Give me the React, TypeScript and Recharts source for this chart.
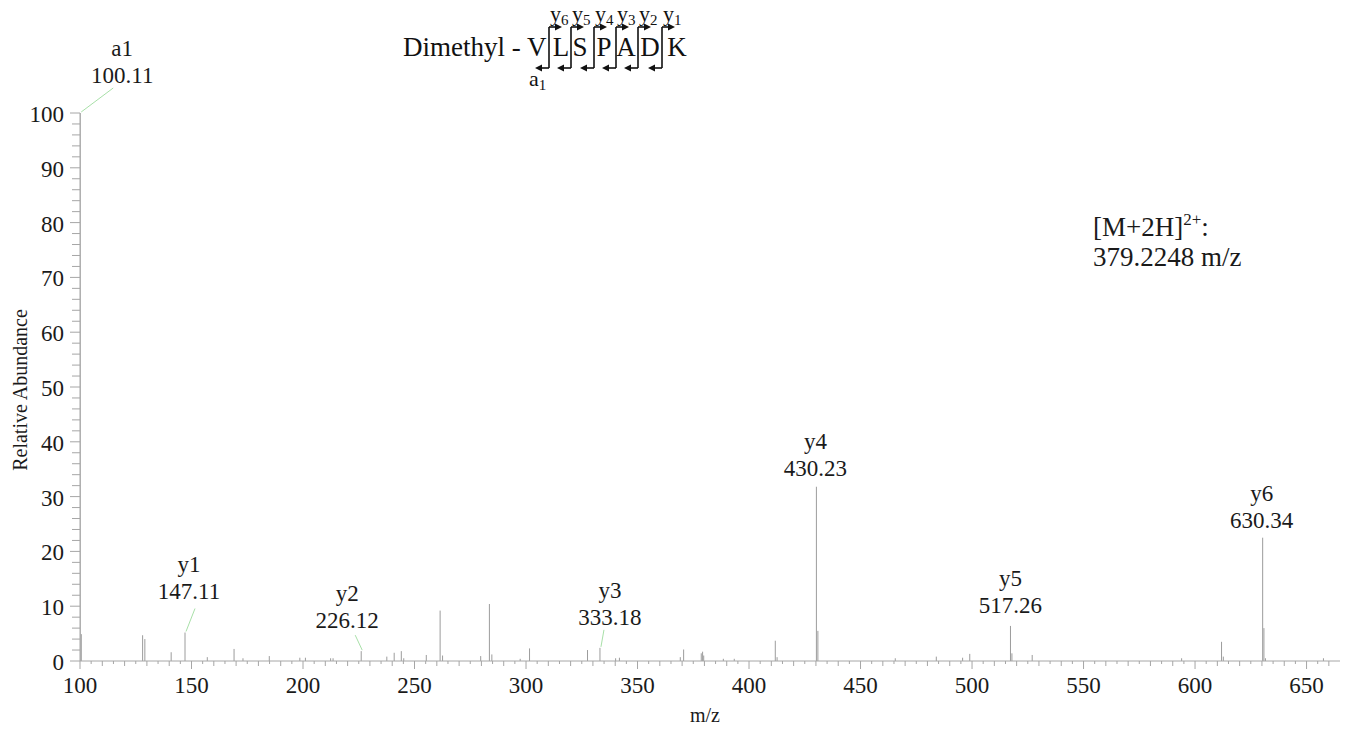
import { Bar, BarChart, XAxis, YAxis } from 'recharts'

// peak list (m/z, relative abundance %)
const peakMz = [
  100.11, 100.6, 128.1, 129.1, 140.9, 147.11, 157.1, 169.1, 173.1, 184.9,
  198.6, 201.1, 212.4, 213.5, 226.12, 237.6, 240.9, 244.1, 245.2, 255.3,
  261.5, 262.6, 279.7, 283.6, 284.7, 297.4, 301.6, 327.6, 333.18, 340.2,
  341.9, 369.2, 370.7, 378.6, 379.2, 379.7, 388.5, 393.4, 411.8, 412.6,
  430.23, 430.9, 465.6, 484.0, 495.8, 499.0, 517.26, 517.9, 527.0, 594.0,
  611.9, 612.7, 630.34, 630.9, 631.6, 657.6,
]
const peakAbundance = [
  100, 4.9, 4.7, 4.0, 1.6, 5.2, 0.7, 2.2, 0.5, 0.9,
  0.6, 0.6, 0.5, 0.5, 1.8, 0.8, 1.5, 1.8, 0.5, 1.1,
  9.2, 1.0, 0.9, 10.4, 1.2, 0.4, 2.3, 2.0, 2.4, 0.5,
  0.6, 0.7, 2.1, 1.4, 1.7, 1.0, 0.4, 0.4, 3.7, 0.7,
  31.8, 5.5, 0.5, 0.8, 0.6, 1.3, 6.4, 1.4, 1.1, 0.5,
  3.5, 0.8, 22.5, 6.0, 0.5, 0.5,
]

const ionMz = [100.11, 147.11, 226.12, 333.18, 430.23, 517.26, 630.34]
const ionNames = ['a1', 'y1', 'y2', 'y3', 'y4', 'y5', 'y6']

const xLabelTicks = [100, 150, 200, 250, 300, 350, 400, 450, 500, 550, 600, 650]
const yLabelTicks = [0, 10, 20, 30, 40, 50, 60, 70, 80, 90, 100]

const residues = ['L', 'S', 'P', 'A', 'D', 'K']
const yIons = ['6', '5', '4', '3', '2', '1']

const data = peakMz.map((mz, i) => {
  const k = ionMz.indexOf(mz)
  return { mz, abundance: peakAbundance[i], ion: k >= 0 ? ionNames[k] : '' }
})

const xTicks = Array.from({ length: 113 }, (_, i) => 100 + i * 5)
const yTicks = Array.from({ length: 51 }, (_, i) => i * 2)

const FONT = '"Liberation Serif", "Times New Roman", serif'
const AXIS = '#a6a6a6'
const PEAK = '#9c9c9c'
const LEADER = '#a8e0a8'
const INK = '#1a1a1a'

// label placement: [dx, lift above peak top, leader dx, leader dy] (null leader = none)
const labelStyle: Record<string, [number, number, number | null, number]> = {
  a1: [42, 30, 33, -25],
  y1: [4, 34, 10, -24],
  y2: [-14, 23, -6, -16],
  y3: [10, 23, 4, -18],
  y4: [-1, 11, null, 0],
  y5: [0, 13, null, 0],
  y6: [-1, 10, null, 0],
}

function Peak(props: any) {
  const { x, y, width, height, payload } = props
  const cx = x + width / 2
  const top = y
  const out = [
    <line key="p" x1={cx} y1={top} x2={cx} y2={y + height} stroke={PEAK} strokeWidth={1} />,
  ]
  if (payload && payload.ion) {
    const [dx, lift, ldx, ldy] = labelStyle[payload.ion]
    const base = top - lift
    if (ldx !== null) {
      out.push(
        <line key="l" x1={cx + 1} y1={top - 1} x2={cx + ldx} y2={top + ldy} stroke={LEADER} strokeWidth={1} />
      )
    }
    out.push(
      <text key="n" x={cx + dx} y={base - 27} textAnchor="middle" fontFamily={FONT} fontSize={23} fill={INK}>
        {payload.ion}
      </text>,
      <text key="v" x={cx + dx} y={base} textAnchor="middle" fontFamily={FONT} fontSize={23} fill={INK}>
        {payload.mz.toFixed(2)}
      </text>
    )
  }
  return <g>{out}</g>
}

function XTick(props: any) {
  const { x, y, payload } = props
  const v = payload.value
  const major = v % 50 === 0
  const len = major ? 8 : v % 10 === 0 ? 5 : 3
  return (
    <g>
      <line x1={x} y1={y} x2={x} y2={y + len} stroke={AXIS} />
      {major && xLabelTicks.includes(v) && (
        <text x={x} y={y + 32} textAnchor="middle" fontFamily={FONT} fontSize={23} fill={INK}>
          {v}
        </text>
      )}
    </g>
  )
}

function YTick(props: any) {
  const { x, y, payload } = props
  const v = payload.value
  const major = yLabelTicks.includes(v)
  return (
    <g>
      <line x1={x - (major ? 10 : 8)} y1={y} x2={x} y2={y} stroke={AXIS} />
      {major && (
        <text x={x - 16} y={y + 9} textAnchor="end" fontFamily={FONT} fontSize={23} fill={INK}>
          {v}
        </text>
      )}
    </g>
  )
}

function Arrow({ x1, x2, y }: { x1: number; x2: number; y: number }) {
  const dir = x2 > x1 ? 1 : -1
  return (
    <g>
      <line x1={x1} y1={y} x2={x2 - dir * 4} y2={y} stroke="#111" strokeWidth={1.6} />
      <polygon points={`${x2},${y} ${x2 - dir * 7},${y - 3.5} ${x2 - dir * 7},${y + 3.5}`} fill="#111" />
    </g>
  )
}

function Sequence() {
  const seps = [549, 571, 594, 616, 638, 662]
  const letterX = [561, 580, 604, 626, 650, 677]
  return (
    <svg width={1355} height={110} style={{ position: 'absolute', left: 0, top: 0 }}>
      <text x={403} y={56} fontFamily={FONT} fontSize={27} fill="#111">
        Dimethyl - V
      </text>
      {residues.map((r, i) => (
        <text key={r} x={letterX[i]} y={56} textAnchor="middle" fontFamily={FONT} fontSize={27} fill="#111">
          {r}
        </text>
      ))}
      {seps.map((s, i) => (
        <g key={s}>
          <line x1={s} y1={27} x2={s} y2={68} stroke="#111" strokeWidth={1.6} />
          <Arrow x1={s} x2={s + 13} y={27} />
          <Arrow x1={s} x2={s - 14} y={68} />
          <text x={s + 1} y={21} fontFamily={FONT} fontSize={22} fill="#111">
            y<tspan fontSize={15} dy={4}>{yIons[i]}</tspan>
          </text>
        </g>
      ))}
      <text x={529} y={86} fontFamily={FONT} fontSize={22} fill="#111">
        a<tspan fontSize={15} dy={4}>1</tspan>
      </text>
    </svg>
  )
}

export default function App() {
  return (
    <div style={{ position: 'absolute', left: 0, top: 0, width: 1355, height: 738, background: '#fff' }}>
      <BarChart
        width={1355}
        height={738}
        data={data}
        margin={{ top: 113, right: 15, bottom: 27, left: 0 }}
        barSize={1}
      >
        <XAxis
          dataKey="mz"
          type="number"
          domain={[100, 665]}
          allowDataOverflow
          ticks={xTicks}
          interval={0}
          tick={<XTick />}
          tickLine={false}
          tickSize={0}
          tickMargin={0}
          axisLine={{ stroke: AXIS }}
          height={50}
        />
        <YAxis
          type="number"
          domain={[0, 100]}
          ticks={yTicks}
          interval={0}
          tick={<YTick />}
          tickLine={false}
          tickSize={0}
          tickMargin={0}
          axisLine={{ stroke: AXIS }}
          width={80}
        />
        <Bar dataKey="abundance" shape={<Peak />} isAnimationActive={false} />
      </BarChart>
      <Sequence />
      <svg width={1355} height={738} style={{ position: 'absolute', left: 0, top: 0, pointerEvents: 'none' }}>
        <text
          x={0}
          y={0}
          transform="translate(27, 390) rotate(-90)"
          textAnchor="middle"
          fontFamily={FONT}
          fontSize={20}
          fill={INK}
        >
          Relative Abundance
        </text>
        <text x={705} y={722} textAnchor="middle" fontFamily={FONT} fontSize={20} fill={INK}>
          m/z
        </text>
        <text x={1093} y={236} fontFamily={FONT} fontSize={27} fill={INK}>
          [M+2H]<tspan fontSize={17} dy={-11}>2+</tspan>
          <tspan dy={11}>:</tspan>
        </text>
        <text x={1093} y={266} fontFamily={FONT} fontSize={27} fill={INK}>
          379.2248 m/z
        </text>
      </svg>
    </div>
  )
}
